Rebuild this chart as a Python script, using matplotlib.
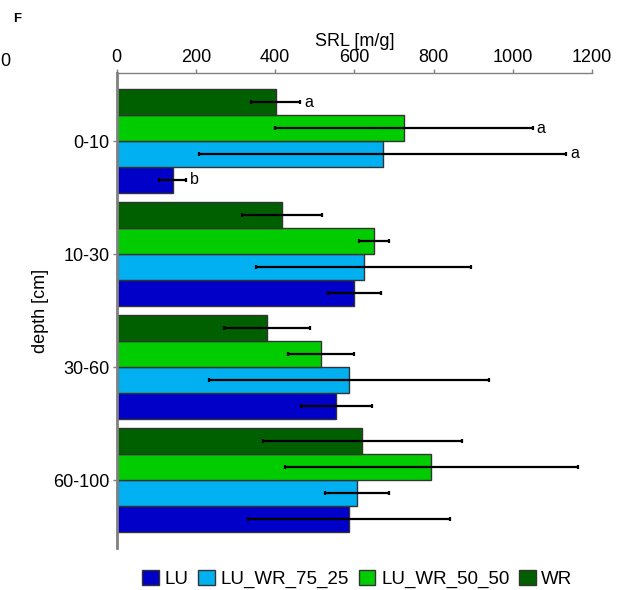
import numpy as np
import matplotlib
matplotlib.use("Agg")
import matplotlib.pyplot as plt

plt.rcParams['font.family'] = ['Liberation Sans', 'DejaVu Sans']

# depth classes, top to bottom
depths = ["0-10", "10-30", "30-60", "60-100"]

# treatments (legend order)
treatments = ["LU", "LU_WR_75_25", "LU_WR_50_50", "WR"]
colors = ["#0000C8", "#00B0F0", "#00CC00", "#006000"]

# SRL means [m/g] per depth
srl_LU = [141, 600, 554, 587]
srl_LU_WR_75_25 = [671, 623, 586, 606]
srl_LU_WR_50_50 = [725, 649, 516, 794]
srl_WR = [401, 417, 379, 620]

# error half-widths
err_LU = [35, 66, 90, 255]
err_LU_WR_75_25 = [463, 271, 354, 80]
err_LU_WR_50_50 = [325, 38, 84, 369]
err_WR = [62, 100, 109, 251]

# significance letters for the 0-10 cm layer (LU, 75_25, 50_50, WR)
letters_top = ["b", "a", "a", "a"]

means = [srl_LU, srl_LU_WR_75_25, srl_LU_WR_50_50, srl_WR]
errs = [err_LU, err_LU_WR_75_25, err_LU_WR_50_50, err_WR]

fig = plt.figure(figsize=(6.24, 5.9), dpi=100)
ax = fig.add_axes([0.187, 0.071, 0.762, 0.805])

y = np.arange(len(depths))
h = 0.229
# LU at bottom of each group, WR on top
offsets = [1.5 * h, 0.5 * h, -0.5 * h, -1.5 * h]

for i, name in enumerate(treatments):
    ax.barh(y + offsets[i], means[i], height=h, color=colors[i],
            edgecolor="#333333", linewidth=1, label=name, zorder=2)
    ax.errorbar(means[i], y + offsets[i], xerr=errs[i], fmt="none",
                ecolor="black", elinewidth=1.6, capsize=1.2, capthick=1.6,
                zorder=3)
    # letters for the first depth
    ax.text(means[i][0] + errs[i][0] + 10, y[0] + offsets[i], letters_top[i],
            ha="left", va="center", fontsize=11.5)

ax.set_xlim(0, 1200)
ax.set_ylim(3.6, -0.6)
ax.set_xticks(np.arange(0, 1201, 200))
ax.set_yticks(y)
ax.set_yticklabels(depths)
ax.xaxis.tick_top()
ax.xaxis.set_label_position("top")
ax.set_xlabel("SRL [m/g]", fontsize=13, labelpad=2)
ax.set_ylabel("depth [cm]", fontsize=13, labelpad=3)
ax.tick_params(axis="both", labelsize=13, length=3, width=1, color="#808080", pad=2)

for s in ["right", "bottom"]:
    ax.spines[s].set_visible(False)
ax.spines["left"].set_color("#808080")
ax.spines["left"].set_linewidth(2)
ax.spines["top"].set_color("#808080")
ax.spines["top"].set_linewidth(1)

ax.legend(loc="lower center", bbox_to_anchor=(0.573, -0.016), bbox_transform=fig.transFigure,
          ncol=4, frameon=False, fontsize=13.5, handlelength=0.9, handleheight=0.9,
          handletextpad=0.3, columnspacing=0.5, borderaxespad=0.2)

fig.text(13 / 624, 1 - 19 / 590, "F", fontsize=9.5, fontweight="bold", ha="left", va="center")
# leftover tick label from neighbouring panel
fig.text(0, 1 - 62 / 590, "0", fontsize=13, ha="left", va="center")

fig.savefig("out.png", dpi=100)
